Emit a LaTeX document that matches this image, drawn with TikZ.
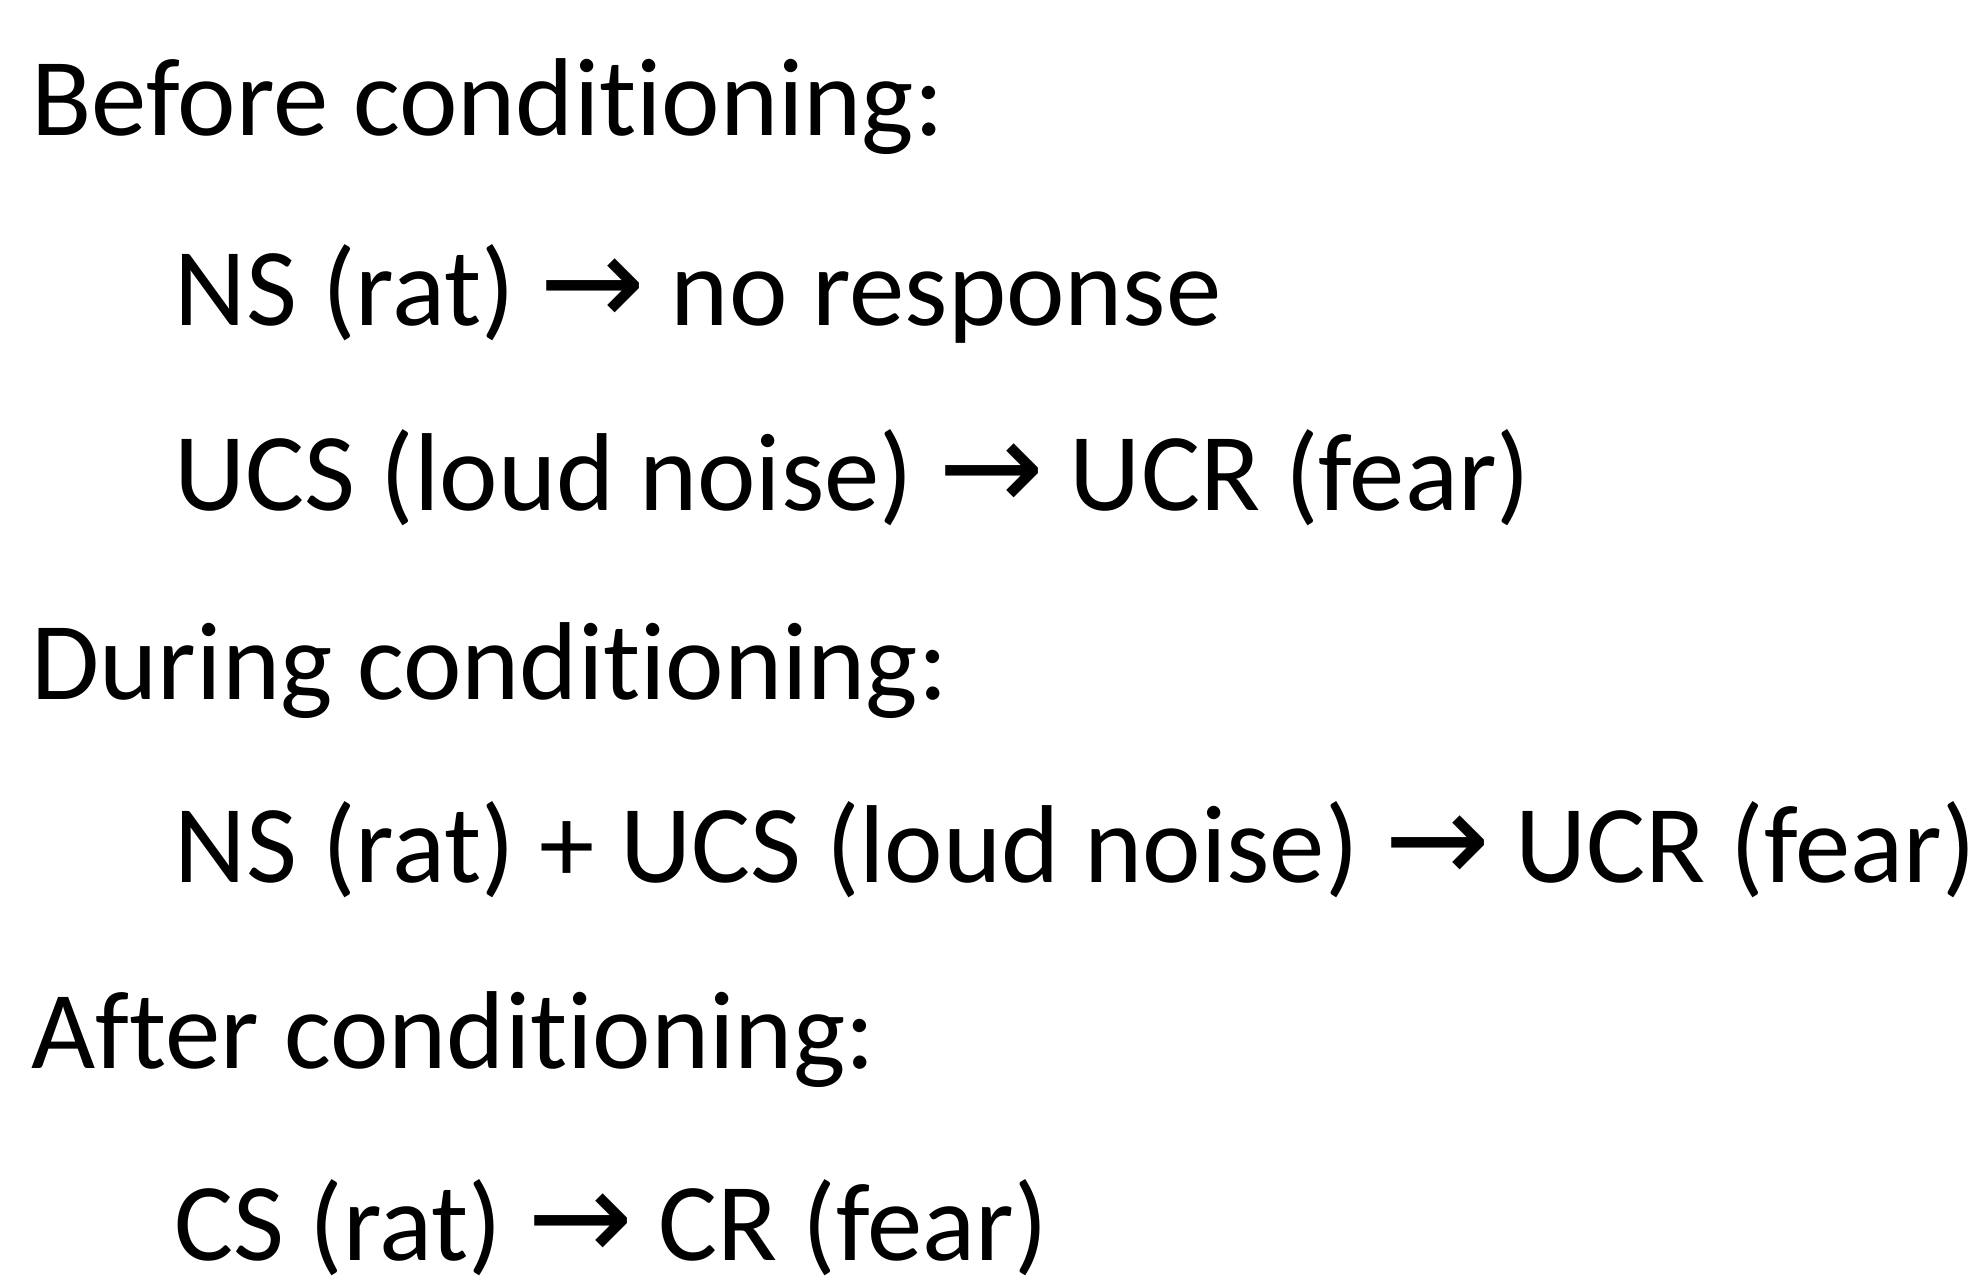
\documentclass[tikz,border=0pt]{standalone}
\usepackage{fontspec}
\setmainfont[RawFeature={-liga}]{Carlito}
\newfontfamily\arrowfont{DejaVu Sans}
\newcommand{\yields}{{\arrowfont\fontsize{36}{40}\selectfont →}}
\begin{document}
\begin{tikzpicture}[x=0.01cm,y=-0.01cm,
  heading/.style={anchor=base west, inner sep=0pt, font=\fontsize{31.5}{38}\selectfont},
  pairing/.style={heading}]
\useasboundingbox (0,0) rectangle (1976,1285);
\node[heading] (before) at (31,136) {Before conditioning:};
\node[pairing] (nsrat) at (174,325) {NS (rat) \yields{} no response};
\node[pairing] (ucs) at (174,510) {UCS (loud noise) \yields{} UCR (fear)};
\node[heading] (during) at (31,699) {During conditioning:};
\node[pairing] (pair) at (174,882) {NS (rat) + UCS (loud noise) \yields{} UCR (fear)};
\node[heading] (after) at (31,1068) {After conditioning:};
\node[pairing] (csrat) at (174,1260) {CS (rat) \yields{} CR (fear)};
\end{tikzpicture}
\end{document}
